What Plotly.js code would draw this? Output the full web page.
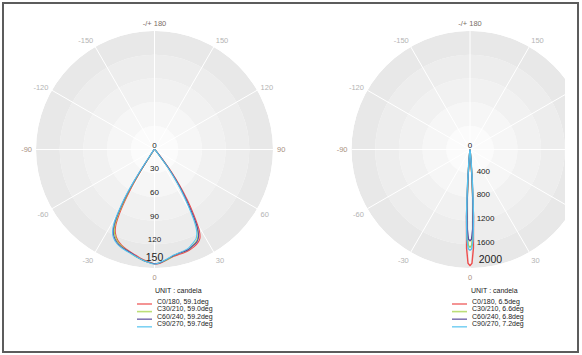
<!DOCTYPE html>
<html><head><meta charset="utf-8">
<script src="https://cdn.plot.ly/plotly-3.0.1.min.js"></script>
<style>
html,body{margin:0;padding:0;background:#fff;overflow:hidden}
#wrap{position:relative;width:582px;height:355px;overflow:hidden;background:#fff}
#clip{position:absolute;left:0;top:0;width:565px;height:355px;overflow:hidden}
#chart{width:600px;height:355px}
#frame{position:absolute;left:2px;top:2px;width:577px;height:351px;box-sizing:border-box;border:2px solid #5c5c5c;pointer-events:none}
</style>
</head><body><div id="wrap"><div id="clip"><div id="chart"></div></div><div id="frame"></div></div><script>
const W = 600, H = 355;

// ---- data ----
const seriesColors = ['#ee4d4d', '#a6d34c', '#5b4b9b', '#54c3f0'];
const leftLegendLabels = ['C0/180, 59.1deg', 'C30/210, 59.0deg', 'C60/240, 59.2deg', 'C90/270, 59.7deg'];
const rightLegendLabels = ['C0/180, 6.5deg', 'C30/210, 6.6deg', 'C60/240, 6.8deg', 'C90/270, 7.2deg'];
const unitTitle = 'UNIT : candela';

const angTickVals = [0, 30, 60, 90, 120, 150, 180, 210, 240, 270, 300, 330];
const angTickText = ['0', '30', '60', '90', '120', '150', '-/+ 180', '-150', '-120', '-90', '-60', '-30'];
const angTickColors = ['#a89080', '#b4b4b4', '#b4b4b4', '#a89080', '#b4b4b4', '#b4b4b4', '#7a6e66', '#b4b4b4', '#b4b4b4', '#a89080', '#b4b4b4', '#b4b4b4'];
// angular labels that fall outside the cropped right panel
const rightHiddenAngTicks = [60, 90, 120];

const leftRadialTicks = [0, 30, 60, 90, 120, 150];
const leftRadialLabels = ['0', '30', '60', '90', '120', '150'];
const rightRadialTicks = [0, 400, 800, 1200, 1600, 2000];
const rightRadialLabels = ['0', '400', '800', '1200', '1600', '2000'];
const bandColors = ['#fbfbfb', '#f6f6f6', '#f1f1f1', '#ededed', '#e8e8e8'];

const leftTheta = [-90, -60, -45, -40, -37, -35, -34, -33, -32, -31, -29, -27, -25, -22, -19, -16, -13, -10, -7, -4, -2, 0, 2, 4, 7, 10, 13, 16, 19, 22, 25, 27, 29, 31, 33, 35, 37, 40, 45, 60, 90];
const leftC0 = [0, 1, 1.5, 2.5, 4, 6, 10, 22, 40, 58, 88, 108, 117, 124, 128, 131, 133.5, 136, 139, 141.5, 143, 145, 144.5, 143, 140, 137.5, 136.5, 136, 135, 133, 130, 126.5, 117, 97, 77, 56, 36, 12, 4, 1, 0];
const leftC30 = [0, 1, 2, 3, 5, 7, 14, 32, 52, 68, 96, 112, 119, 125.5, 129, 132, 134.5, 137.5, 140, 142.5, 143.5, 144.5, 144, 142.5, 140, 137, 135, 134.5, 133.5, 130.5, 127, 121.5, 109, 87, 67, 47, 27, 8, 3, 1, 0];
const leftC60 = [0, 1, 2, 3.5, 6, 10, 20, 40, 60, 75, 101, 115, 121.5, 127, 130, 132, 134, 137, 140, 142.5, 143.5, 144.5, 144, 142.5, 139.5, 136.5, 135, 134.5, 133.5, 131, 128, 123, 111, 89, 69, 49, 29, 9, 3, 1, 0];
const leftC90 = [0, 1, 2.5, 4, 8, 14, 26, 47, 66, 80, 105, 117, 123, 128, 131, 133, 135, 137.5, 140, 142.5, 144, 145, 144, 142, 139, 136, 134.5, 133.5, 132, 128.5, 124.5, 118, 104, 82, 62, 42, 23, 6, 2.5, 1, 0];

const rightTheta = [-90, -30, -12, -10, -8, -6, -5, -4, -3, -2, -1, 0, 1, 2, 3, 4, 5, 6, 8, 10, 12, 30, 90];
const rightC0 = [0, 0, 0, 0, 0, 25, 157, 537, 1135, 1666, 1921, 1960, 1921, 1666, 1135, 537, 157, 25, 0, 0, 0, 0, 0];
const rightC30 = [0, 0, 0, 0, 0, 26, 149, 481, 981, 1414, 1618, 1650, 1618, 1414, 981, 481, 149, 26, 0, 0, 0, 0, 0];
const rightC60 = [0, 0, 0, 0, 0, 34, 169, 497, 956, 1337, 1513, 1540, 1513, 1337, 956, 497, 169, 34, 0, 0, 0, 0, 0];
const rightC90 = [0, 0, 0, 0, 1, 69, 266, 658, 1139, 1510, 1675, 1700, 1675, 1510, 1139, 658, 266, 69, 1, 0, 0, 0, 0];

// ---- build ----
const leftSeries = [leftC0, leftC30, leftC60, leftC90];
const rightSeries = [rightC0, rightC30, rightC60, rightC90];
const FONT = 'Arial, Liberation Sans, sans-serif';

function subplotTraces(polarId, ticks, labels, theta, series, opt) {
  const rmax = ticks[ticks.length - 1];
  const tr = [];
  tr.push({
    type: 'barpolar', subplot: polarId,
    theta: bandColors.map(() => 0), width: bandColors.map(() => 360),
    base: ticks.slice(0, -1), r: ticks.slice(1).map((v, i) => v - ticks[i]),
    marker: {color: bandColors, line: {width: 0}}, hoverinfo: 'skip', showlegend: false
  });
  const sth = [], sr = [];
  angTickVals.forEach(v => { sth.push(v, v, null); sr.push(0, rmax, null); });
  tr.push({type: 'scatterpolar', subplot: polarId, mode: 'lines', theta: sth, r: sr,
    line: {color: '#ffffff', width: 1}, hoverinfo: 'skip', showlegend: false});
  series.forEach((s, i) => tr.push({
    type: 'scatterpolar', subplot: polarId, mode: 'lines', theta: theta, r: s,
    line: {color: seriesColors[i], width: opt.lw, shape: opt.shape, smoothing: 0.6},
    hoverinfo: 'skip', showlegend: false
  }));
  const last = ticks.length - 1;
  tr.push({type: 'scatterpolar', subplot: polarId, mode: 'text',
    theta: ticks.map(() => 0),
    r: ticks.map((v, i) => v + rmax * (i === 0 ? 0 : (i === last ? opt.lastShift : opt.midShift))),
    text: labels.map((t, i) => i === 0 ? t : opt.prefix + t),
    textposition: ticks.map((v, i) => i === 0 ? 'top center' : opt.pos),
    textfont: {family: FONT, size: ticks.map((v, i) => i === last ? 10.5 : 8), color: '#222'},
    hoverinfo: 'skip', showlegend: false});
  return tr;
}

const data = [].concat(
  subplotTraces('polar', leftRadialTicks, leftRadialLabels, leftTheta, leftSeries,
    {lw: 1.1, shape: 'spline', pos: 'top center', prefix: '', midShift: 0, lastShift: -0.035}),
  subplotTraces('polar2', rightRadialTicks, rightRadialLabels, rightTheta, rightSeries,
    {lw: 1.4, shape: 'linear', pos: 'top right', prefix: '\u00a0\u00a0\u00a0', midShift: 0.0195, lastShift: -0.017})
);

function polarLayout(x0, x1, rmax, hidden) {
  return {
    domain: {x: [x0 / W, x1 / W], y: [1 - 268 / H, 1 - 31 / H]},
    bgcolor: 'rgba(0,0,0,0)',
    angularaxis: {
      rotation: 270, direction: 'counterclockwise', tickmode: 'array',
      tickvals: angTickVals,
      ticktext: angTickText.map((t, i) => hidden.includes(angTickVals[i]) ? '' :
        '<span style="color:' + angTickColors[i] + '">' + t + '</span>'),
      showline: false, ticks: 'outside', ticklen: 2, tickcolor: 'rgba(0,0,0,0)', showgrid: false,
      tickfont: {family: FONT, size: 7.5, color: '#b4b4b4'}
    },
    radialaxis: {range: [0, rmax], showticklabels: false, showline: false, showgrid: false, ticks: ''}
  };
}

const annotations = [];
const shapes = [];
function addLegend(textX, lineX0, lineX1, titleX, labels) {
  annotations.push({xref: 'paper', yref: 'paper', x: titleX / W, y: 1 - 290.5 / H, xanchor: 'left', yanchor: 'middle',
    text: unitTitle, showarrow: false, font: {family: FONT, size: 7, color: '#222'}});
  labels.forEach((lab, i) => {
    const yc = 301.5 + 7.6 * i;
    annotations.push({xref: 'paper', yref: 'paper', x: textX / W, y: 1 - yc / H, xanchor: 'left', yanchor: 'middle',
      text: lab, showarrow: false, font: {family: FONT, size: 7, color: '#222'}});
    shapes.push({type: 'line', xref: 'paper', yref: 'paper', x0: lineX0 / W, x1: lineX1 / W,
      y0: 1 - (yc + 2.5) / H, y1: 1 - (yc + 2.5) / H, line: {color: seriesColors[i], width: 1.6}, opacity: 0.75});
  });
}
addLegend(154.5, 137, 152, 152.5, leftLegendLabels);
addLegend(470, 452, 467, 469, rightLegendLabels);

const layout = {
  width: W, height: H, margin: {l: 0, r: 0, t: 0, b: 0},
  paper_bgcolor: '#ffffff', showlegend: false, hovermode: false,
  polar: polarLayout(36, 273, 150, []),
  polar2: polarLayout(351.5, 588.5, 2000, rightHiddenAngTicks),
  annotations: annotations, shapes: shapes
};
Plotly.newPlot('chart', data, layout, {staticPlot: true, displayModeBar: false});
</script></body></html>
